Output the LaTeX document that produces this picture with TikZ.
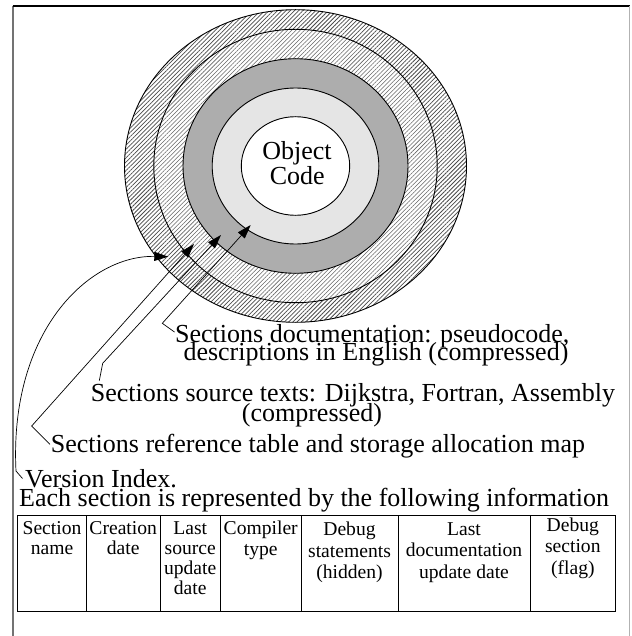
\documentclass[tikz,border=0pt]{standalone}
\usepackage{fontspec}
\setmainfont{Liberation Serif}
\usetikzlibrary{arrows.meta,patterns.meta}
\begin{document}
\begin{tikzpicture}[x=1pt,y=-1pt,
  ring/.style={draw=black,line width=0.9pt},
  big/.style={font=\fontsize{26}{18}\selectfont, inner sep=0pt},
  cell/.style={font=\fontsize{19.6}{20.3}\selectfont, inner sep=0pt, align=center, anchor=north},
  cellw/.style={cell, font=\fontsize{19.6}{21.5}\selectfont},
  lead/.style={line width=0.7pt},
  arr/.style={lead,-{Triangle[length=14pt,width=9pt]}},
  grid/.style={line width=0.9pt}
]
\useasboundingbox (0,0) rectangle (631,636);
% frame
\draw[black!55,line width=2pt] (12.7,640) -- (12.7,6);
\draw[black,line width=1.2pt] (12.7,6) -- (629.5,6);
\draw[black!30,line width=1.5pt] (629.5,6) -- (629.5,640);
% rings
\coordinate (C) at (295.5,166);
\draw[ring, preaction={fill=white}, pattern={Lines[angle=45,distance=3pt,line width=0.75pt]}, pattern color=black!70] (C) ellipse [x radius=171, y radius=156.3];
\draw[ring, preaction={fill=white}, pattern={Lines[angle=45,distance=3pt,line width=0.55pt]}, pattern color=black!60] (C) ellipse [x radius=141.7, y radius=136.7];
\draw[ring, fill=black!32] (C) ellipse [x radius=112.5, y radius=107.3];
\draw[ring, fill=black!10] (C) ellipse [x radius=83.3, y radius=78];
\draw[ring, fill=white] (C) ellipse [x radius=54.2, y radius=49.3];
\node[big, anchor=base] (obj1) at (297,159.3) {Object};
\node[big, anchor=base] (obj2) at (297.3,185) {Code};
% labels
\node[big, anchor=base west] (doc1) at (175,342) {Sections documentation: pseudocode,};
\node[big, anchor=base west] (doc2) at (183.3,360) {descriptions in English (compressed)};
\node[big, anchor=base west] (src1) at (90.7,401) {Sections source texts: Dijkstra, Fortran, Assembly};
\node[big, anchor=base west] (src2) at (241.7,421) {(compressed)};
\node[big, anchor=base west] (ref) at (50.7,452.7) {Sections reference table and storage allocation map};
\node[big, anchor=base west] (ver) at (25,487) {Version Index.};
\node[big, anchor=base west] (each) at (19,506) {Each section is represented by the following information};
% leaders
\coordinate (t4) at (250.7,225);
\coordinate (e4) at (162.3,323.3);
\coordinate (s4) at (174.5,332);
\coordinate (t3) at (221,235);
\coordinate (e3) at (102.7,363.3);
\coordinate (s3) at (99.3,380.7);
\coordinate (t2) at (194,244);
\coordinate (e2) at (31.7,426);
\coordinate (s2) at (50,444.3);
\coordinate (t1) at (168.3,256.7);
\coordinate (e1) at (16,471);
\coordinate (s1) at (22.5,478.5);
\draw[arr] (s4) -- (e4) -- (t4);
\draw[arr] (s3) -- (e3) -- (t3);
\draw[arr] (s2) -- (e2) -- (t2);
\draw[arr] (s1) -- (e1) .. controls (9,330) and (90,255) .. (t1);
% table
\draw[grid] (17.5,515) rectangle (615.7,611.7);
\foreach \x in {86.5,160,220.5,301,398,530} \draw[grid] (\x,515) -- (\x,611.7);
\node[cell] (c1) at (52,521) {Section\\name};
\node[cell] (c2) at (123.2,521) {Creation\\date};
\node[cell] (c3) at (190.2,521) {Last\\source\\update\\date};
\node[cell] (c4) at (260.7,521) {Compiler\\type};
\node[cellw] (c5) at (349.5,522) {Debug\\statements\\(hidden)};
\node[cellw] (c6) at (464,522) {Last\\documentation\\update date};
\node[cellw] (c7) at (572.8,517.5) {Debug\\section\\(flag)};
\end{tikzpicture}
\end{document}
